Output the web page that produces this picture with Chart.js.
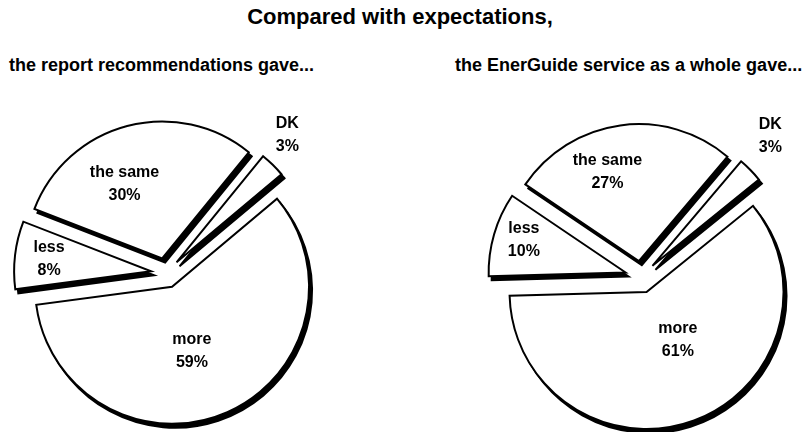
<!DOCTYPE html>
<html>
<head>
<meta charset="utf-8">
<title>Compared with expectations</title>
<script src="https://cdn.jsdelivr.net/npm/chart.js@4.4.0/dist/chart.umd.min.js"></script>
<style>
    body {
        margin: 0;
        width: 809px;
        height: 432px;
        overflow: hidden;
        position: relative;
        background: #fff;
        color: #000;
        font-family: "Liberation Sans", Arial, sans-serif;
        font-weight: bold;
    }
    .txt { position: absolute; white-space: nowrap; line-height: 1; }
    #title { left: 0; width: 800px; text-align: center; top: 6px; font-size: 22px; }
    #sub-left { left: 9px; top: 56px; font-size: 18px; }
    #sub-right { left: 455px; top: 56px; font-size: 18px; }
    canvas { position: absolute; }
</style>
</head>
<body>
<div id="title" class="txt">Compared with expectations,</div>
<div id="sub-left" class="txt">the report recommendations gave...</div>
<div id="sub-right" class="txt">the EnerGuide service as a whole gave...</div>
<canvas id="pieReport" width="340" height="340" style="left:-4px; top:103px"></canvas>
<canvas id="pieService" width="340" height="340" style="left:471px; top:107px"></canvas>
<script>
// Answers, clockwise from the start angle
const categories = ['more', 'less', 'the same', 'DK'];
// Percent of respondents
const reportValues = [59, 8, 30, 3];
const serviceValues = [61, 10, 27, 3];

// Pulls every slice out from the centre, puts a solid black shadow
// behind it and writes the name + percent on (or next to) the slice
const explodedPie = {
    id: 'explodedPie',
    beforeDatasetDraw(chart, args, opts) {
        const ctx = chart.ctx;
        const arcs = args.meta.data;
        const shift = arc => {
            const mid = (arc.startAngle + arc.endAngle) / 2;
            return [Math.cos(mid) * opts.explode, Math.sin(mid) * opts.explode];
        };

        // shadows first so no slice gets covered by a neighbour's shadow
        arcs.forEach(arc => {
            const [dx, dy] = shift(arc);
            ctx.save();
            ctx.translate(dx + opts.shadowX, dy + opts.shadowY);
            ctx.beginPath();
            ctx.moveTo(arc.x, arc.y);
            ctx.arc(arc.x, arc.y, arc.outerRadius, arc.startAngle, arc.endAngle);
            ctx.closePath();
            ctx.fillStyle = '#000';
            ctx.fill();
            ctx.lineWidth = arc.options.borderWidth;
            ctx.lineJoin = 'miter';
            ctx.strokeStyle = '#000';
            ctx.stroke();
            ctx.restore();
        });

        arcs.forEach(arc => {
            const [dx, dy] = shift(arc);
            ctx.save();
            ctx.translate(dx, dy);
            arc.draw(ctx);
            ctx.restore();
        });
        return false;
    },
    afterDatasetsDraw(chart, args, opts) {
        const ctx = chart.ctx;
        const meta = chart.getDatasetMeta(0);
        const values = chart.data.datasets[0].data;
        ctx.save();
        ctx.fillStyle = '#000';
        ctx.font = 'bold 16px "Liberation Sans", Arial, sans-serif';
        ctx.textAlign = 'center';
        ctx.textBaseline = 'middle';
        meta.data.forEach((arc, i) => {
            const mid = (arc.startAngle + arc.endAngle) / 2;
            const spot = opts.labelSpots[i];
            const a = mid + spot.turn * Math.PI / 180;
            const r = arc.outerRadius * spot.dist;
            const x = arc.x + Math.cos(mid) * opts.explode + Math.cos(a) * r;
            const y = arc.y + Math.sin(mid) * opts.explode + Math.sin(a) * r;
            ctx.fillText(chart.data.labels[i], x, y - 11.5);
            ctx.fillText(values[i] + '%', x, y + 11.5);
        });
        ctx.restore();
    }
};

function makePie(canvasId, values, rotation, explode, labelSpots) {
    return new Chart(document.getElementById(canvasId), {
        type: 'pie',
        data: {
            labels: categories,
            datasets: [{
                data: values,
                backgroundColor: '#fff',
                borderColor: '#000',
                borderWidth: 2,
                borderJoinStyle: 'miter'
            }]
        },
        options: {
            responsive: false,
            animation: false,
            events: [],
            rotation: rotation,
            radius: 137,
            layout: { padding: 0 },
            plugins: {
                legend: { display: false },
                tooltip: { enabled: false },
                explodedPie: {
                    explode: explode,
                    shadowX: 3,
                    shadowY: 4,
                    labelSpots: labelSpots
                }
            }
        },
        plugins: [explodedPie]
    });
}

// turn = degrees away from the slice middle, dist = share of the radius
makePie('pieReport', reportValues, 50, 15, [
    { turn: 6.6, dist: 0.49 },
    { turn: 0, dist: 0.75 },
    { turn: -12, dist: 0.61 },
    { turn: -3.5, dist: 1.23 }
]);

makePie('pieService', serviceValues, 51, 16, [
    { turn: -12.7, dist: 0.42 },
    { turn: 1.5, dist: 0.78 },
    { turn: -11.6, dist: 0.69 },
    { turn: -3.4, dist: 1.28 }
]);
</script>
</body>
</html>
